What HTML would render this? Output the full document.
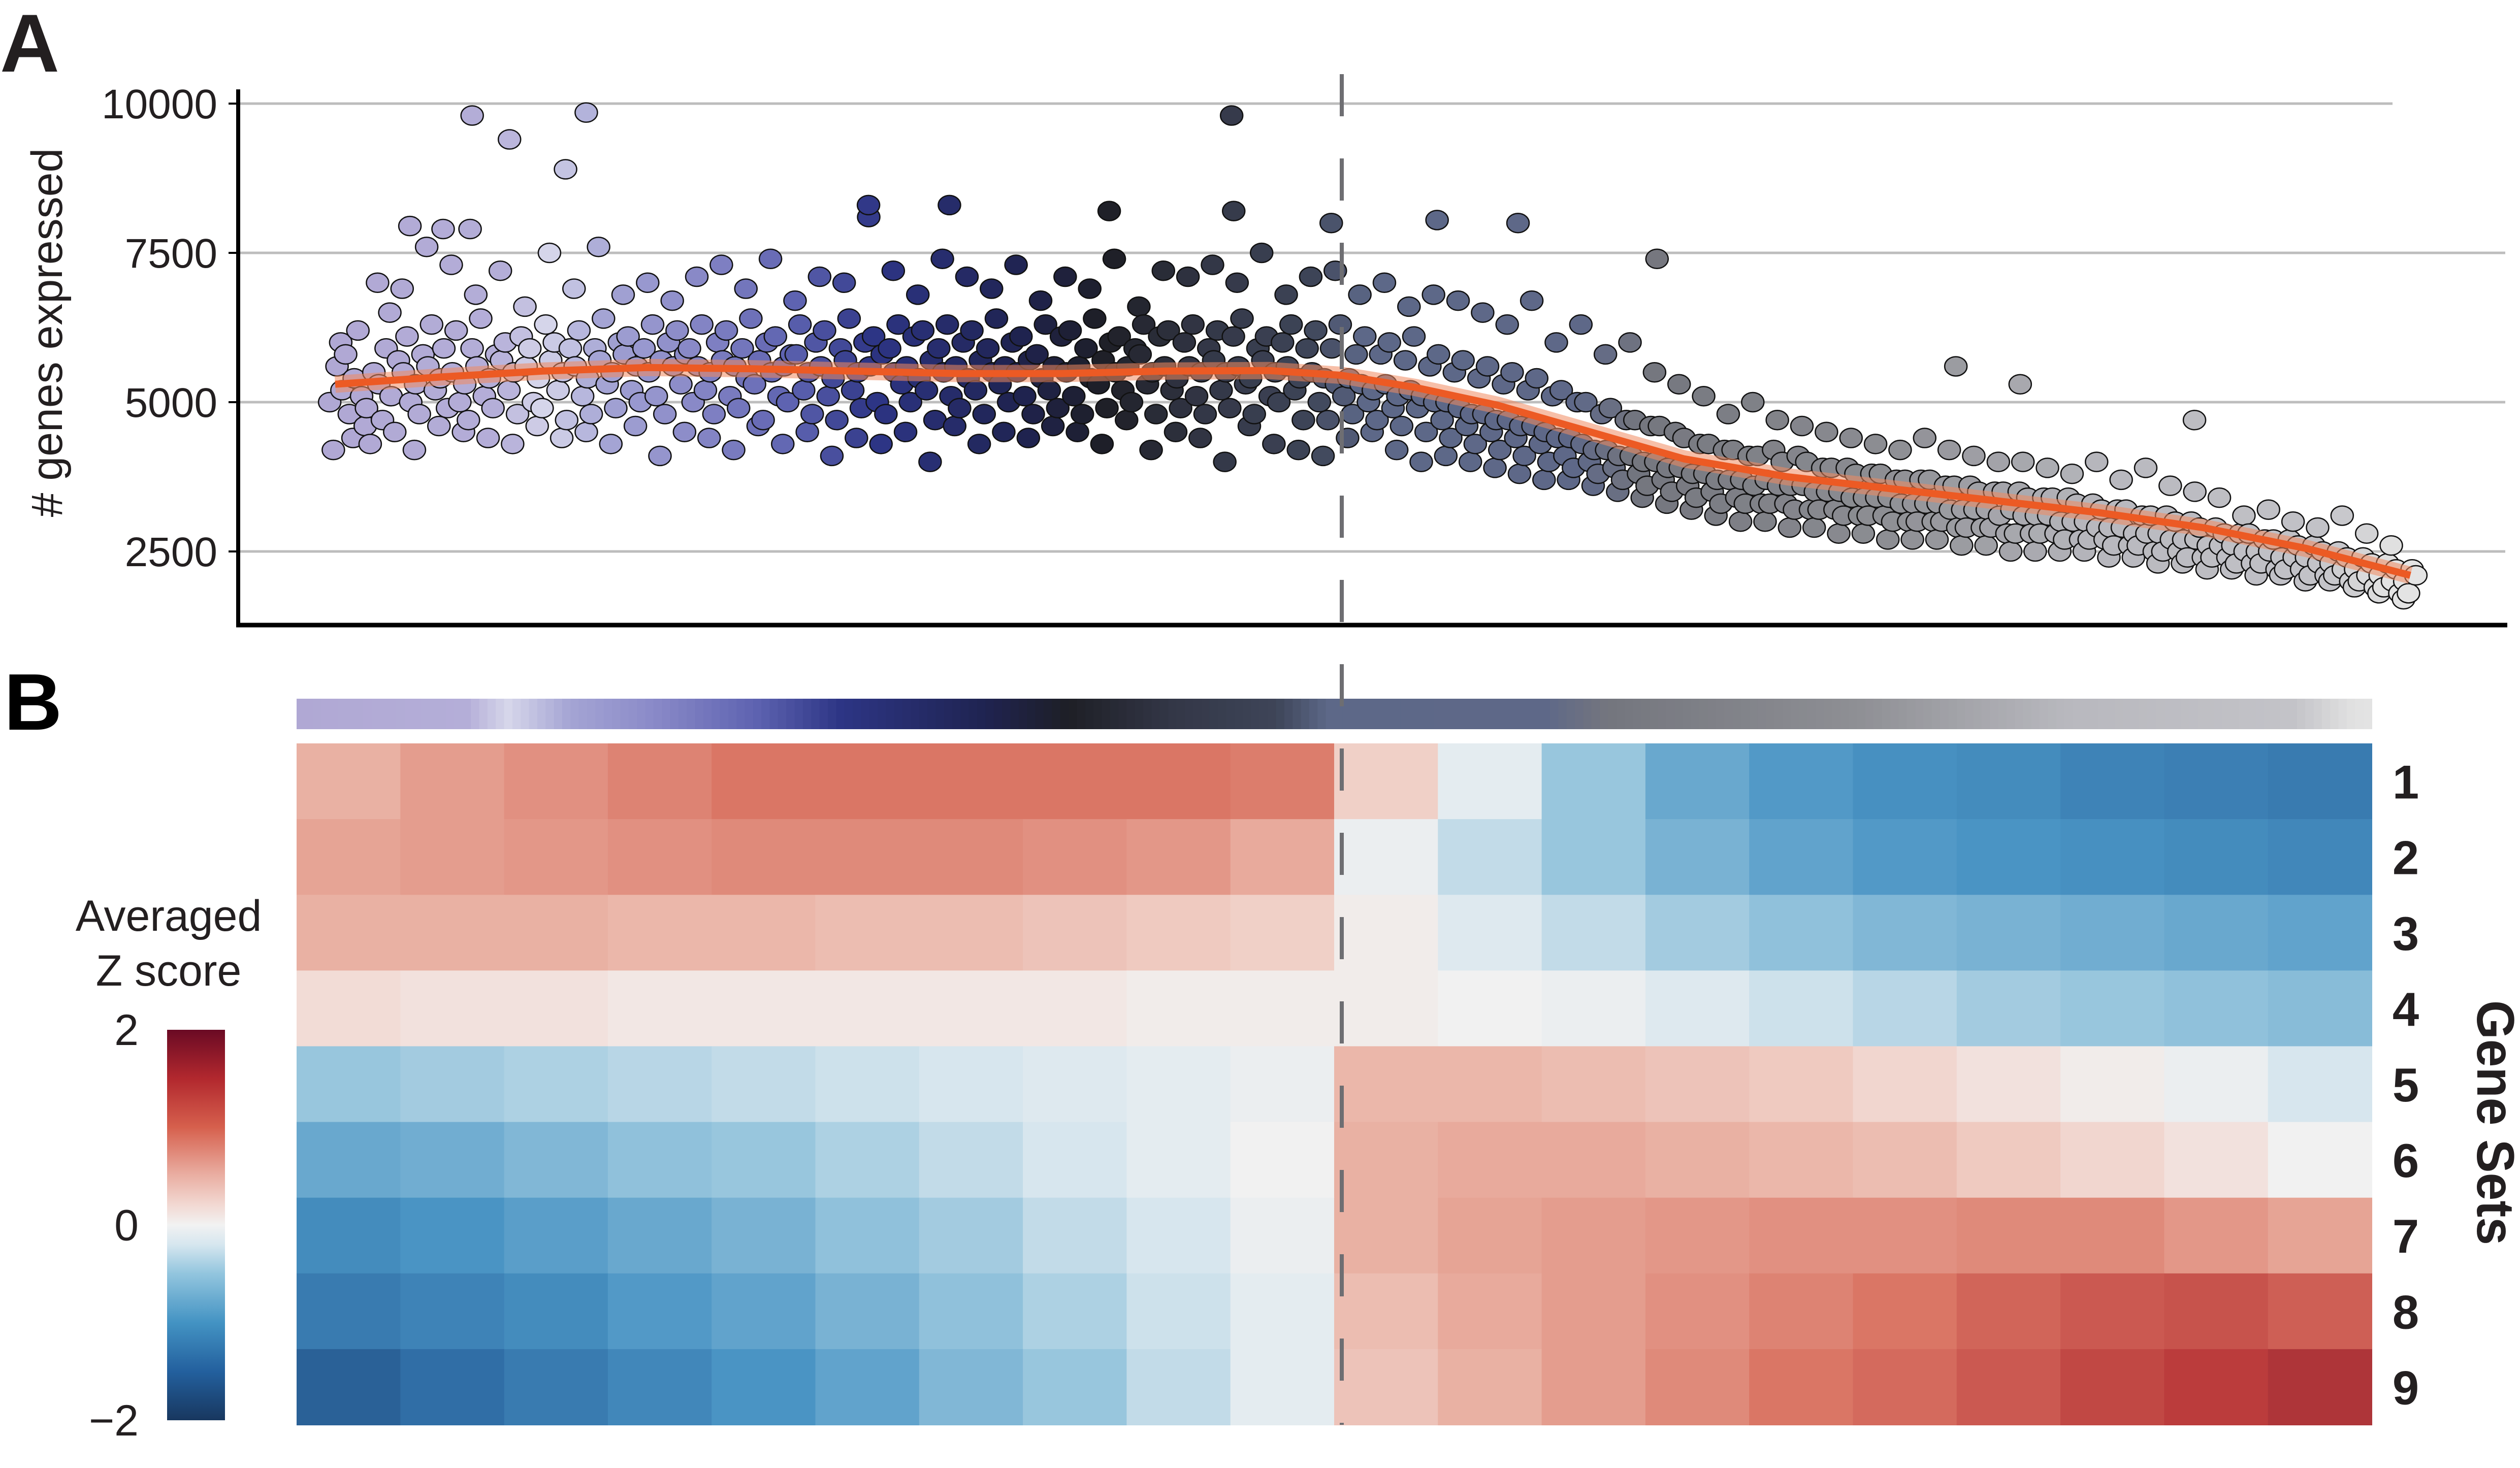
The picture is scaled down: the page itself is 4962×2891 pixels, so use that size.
<!DOCTYPE html>
<html><head><meta charset="utf-8"><style>
html,body{margin:0;padding:0;background:#fff;width:4962px;height:2891px;overflow:hidden}
svg{display:block;font-family:"Liberation Sans",Arial,sans-serif}
</style></head><body>
<svg id="fig" width="4962" height="2891" viewBox="0 0 4962 2891" xmlns="http://www.w3.org/2000/svg">
<text x="0" y="141" font-size="162" font-weight="bold" fill="#231f20">A</text>
<text x="8" y="1437" font-size="158" font-weight="bold" fill="#000">B</text>
<g id="grid"></g>
<g id="yaxis"></g>
<text transform="translate(122,655) rotate(-90)" text-anchor="middle" font-size="86" fill="#231f20"># genes expressed</text>
<g id="points"></g>
<g id="trend"></g>
<line x1="465" y1="1231" x2="4937" y2="1231" stroke="#000" stroke-width="9"/>
<g id="topbar"></g>
<g id="heat"></g>
<g id="rowlabels"></g>
<text transform="translate(4878,2211) rotate(90)" text-anchor="middle" font-size="104" font-weight="bold" fill="#231f20" textLength="482" lengthAdjust="spacingAndGlyphs">Gene Sets</text>
<text x="332" y="1833" text-anchor="middle" font-size="86" fill="#231f20">Averaged</text>
<text x="332" y="1941" text-anchor="middle" font-size="86" fill="#231f20">Z score</text>
<defs><linearGradient id="cbg" x1="0" y1="1" x2="0" y2="0"></linearGradient></defs>
<rect x="329" y="2028" width="114" height="769" fill="url(#cbg)"/>
<g id="cbticks"></g>
<line x1="2642" y1="146" x2="2642" y2="2806" stroke="#6e6e72" stroke-width="8" stroke-dasharray="83 83"/>
</svg>
<script>
// ---------- data ----------
const yTicks = [2500, 5000, 7500, 10000];
const cbTicks = [2, 0, -2];
const cbTickLabels = ["2", "0", "\u22122"];
const geneSetLabels = ["1","2","3","4","5","6","7","8","9"];
// scatter: 170 cell-rank columns, 4 cells each (# genes expressed)
const geneCols = [
[5000,5600,4200,6000],[5200,4800,5800,4400],[5400,5100,6200,4600],[4900,5500,4300,7000],[5300,5900,4700,6500],[5100,5700,4500,6900],[5500,5000,6100,4200],[5300,5800,4800,7600],[5600,5200,6300,4600],[5400,4900,5900,7300],
[5500,5000,6200,4500],[5300,5900,4700,6800],[5600,5100,6400,4400],[5400,5800,4900,7200],[5700,5200,6000,4300],[5500,6100,4800,6600],[5600,5000,5900,4600],[5400,6300,4900,7500],[5700,5200,6000,4400],[5500,5900,4700,6900],
[5600,5100,6200,4500],[5400,5900,4800,7600],[5700,5300,6400,4300],[5500,6000,4900,6800],[5800,5200,6100,4600],[5600,5900,5000,7000],[5500,5100,6300,4100],[5700,6000,4800,6700],[5600,5300,6200,4500],[5800,5000,5900,7100],
[5600,5200,6300,4400],[5500,6000,4800,7300],[5700,5100,6200,4200],[5600,5900,4900,6900],[5400,5300,6400,4600],[5700,6000,4700,7400],[5500,5100,6100,4300],[5600,5800,5000,6700],[5800,5200,6300,4500],[5500,6000,4800,7100],
[5600,5100,6200,4100],[5400,5900,4700,7000],[5700,5200,6400,4400],[5500,6000,4900,8100],[5600,5000,6100,4300],[5800,5900,4800,7200],[5500,5300,6300,4500],[5600,6100,5000,6800],[5400,5200,6200,4000],[5700,5900,4700,7400],
[5500,5100,6300,4600],[5600,6000,4900,7100],[5400,5200,6200,4300],[5700,5900,4800,6900],[5500,5300,6400,4500],[5600,6000,5000,7300],[5500,5100,6100,4400],[5700,5800,4800,6700],[5400,5200,6300,4600],[5600,6100,4900,7100],
[5500,5100,6200,4500],[5600,5900,4800,6900],[5400,5300,6400,4300],[5700,6000,4900,7400],[5500,5200,6100,4700],[5600,5900,5000,6600],[5800,5300,6300,4200],[5500,6100,4800,7200],[5600,5200,6200,4500],[5400,6000,4900,7100],
[5600,5100,6300,4400],[5500,5900,4800,7300],[5700,5200,6200,4000],[5500,6100,4900,7000],[5600,5300,6400,4600],[5400,5900,4800,7500],[5700,5100,6100,4300],[5500,6000,5000,6800],[5600,5200,6300,4200],[5400,5900,4700,7100],
[5500,5000,6200,4100],[5400,5900,4700,7200],[5300,5100,6300,4400],[5400,5800,4800,6800],[5300,5000,6100,4500],[5200,5800,4700,7000],[5300,4900,6000,4200],[5100,5700,4600,6600],[5200,4900,6100,4000],[5100,5600,4500,6800],
[5000,4700,5800,4100],[5000,5500,4400,6700],[4900,4600,5700,4000],[4800,5400,4300,6500],[4800,4500,5600,3900],[4700,5300,4200,6300],[4700,4400,5500,3800],[4600,5200,4100,6700],[4600,4300,5400,3700],[4500,5100,4000,6000],
[4400,4100,5200,3700],[4400,5000,3900,6300],[4300,4000,5000,3600],[4200,4800,3800,5800],[4200,3900,4900,3500],[4100,4700,3700,6000],[4100,3800,4700,3400],[4000,4600,3600,5500],[4000,3700,4600,3300],[3900,4500,3500,5300],
[3900,3600,4400,3200],[3800,4300,3400,5100],[3800,3500,4300,3100],[3700,4200,3300,4800],[3700,3400,4200,3000],[3700,4100,3300,5000],[3600,3300,4100,3000],[3700,4200,3300,4700],[3600,3300,4000,2900],[3600,4100,3200,4600],
[3600,3200,4000,2900],[3500,3900,3200,4500],[3500,3200,3900,2800],[3500,3900,3100,4400],[3400,3100,3800,2800],[3400,3800,3100,4300],[3400,3100,3800,2700],[3400,3700,3000,4200],[3300,3000,3700,2700],[3300,3700,3000,4400],
[3300,3000,3700,2700],[3300,3600,3000,4200],[3200,2900,3600,2600],[3200,3600,2900,4100],[3200,2900,3500,2600],[3200,3500,2900,4000],[3100,2800,3500,2500],[3200,3500,2800,4000],[3100,2800,3400,2500],[3100,3400,2800,3900],
[3100,2800,3400,2500],[3000,3400,2700,3800],[3000,2700,3300,2500],[3000,3300,2700,4000],[2900,2700,3200,2400],[2900,3200,2600,3700],[2900,2600,3200,2400],[2800,3100,2600,3900],[2800,2500,3100,2300],[2800,3100,2500,3600],
[2700,2500,3000,2300],[2700,3000,2400,3500],[2700,2400,2900,2200],[2600,2900,2400,3400],[2600,2400,2800,2200],[2600,2800,2300,3100],[2500,2300,2800,2100],[2500,2700,2300,3200],[2500,2200,2700,2100],[2400,2700,2200,3000],
[2400,2200,2600,2000],[2400,2600,2100,2900],[2300,2100,2500,2000],[2300,2500,2100,3100],[2200,2000,2400,1900],[2200,2400,2000,2800],[2100,1900,2300,1800],[2100,2300,1900,2600],[2000,1800,2200,1700],[2000,2200,1800,2100]
];
const outlierRank = [66,84,111,121,432,36,52,65,257,296,373,433,480,531,570,781,812,896,637];
const outlierGenes = [9800,9400,8900,9850,9800,7950,7900,7900,8300,8300,8200,8200,8000,8050,8000,5600,5300,4700,7400];
const trendRank = [0,50,100,150,200,250,300,350,400,450,485,520,560,600,650,700,750,800,850,900,950,1000];
const trendGenes = [5300,5420,5520,5580,5560,5520,5480,5480,5520,5530,5450,5250,4950,4550,4050,3750,3550,3350,3150,2900,2550,2100];
// heatmap: averaged z score per gene set, 20 cell-order bins
const set1 = [0.55,0.7,0.8,0.9,1.0,1.0,1.0,1.0,1.0,0.95,0.3,-0.1,-0.5,-0.8,-0.95,-1.05,-1.1,-1.2,-1.25,-1.3];
const set2 = [0.65,0.7,0.75,0.8,0.85,0.85,0.85,0.8,0.75,0.6,-0.05,-0.3,-0.5,-0.7,-0.85,-0.95,-1.0,-1.05,-1.1,-1.15];
const set3 = [0.55,0.55,0.55,0.5,0.5,0.45,0.45,0.4,0.35,0.3,0.05,-0.15,-0.3,-0.45,-0.55,-0.65,-0.7,-0.75,-0.8,-0.85];
const set4 = [0.2,0.15,0.15,0.1,0.1,0.1,0.1,0.1,0.05,0.05,0.05,0.0,-0.05,-0.15,-0.25,-0.35,-0.45,-0.5,-0.55,-0.6];
const set5 = [-0.5,-0.45,-0.4,-0.35,-0.3,-0.25,-0.2,-0.15,-0.1,-0.05,0.5,0.5,0.45,0.4,0.35,0.25,0.15,0.05,-0.05,-0.2];
const set6 = [-0.8,-0.75,-0.65,-0.55,-0.5,-0.4,-0.3,-0.2,-0.1,0.0,0.55,0.6,0.6,0.55,0.5,0.45,0.35,0.25,0.15,0.0];
const set7 = [-1.1,-1.0,-0.9,-0.8,-0.7,-0.55,-0.45,-0.3,-0.2,-0.05,0.55,0.65,0.7,0.75,0.8,0.8,0.85,0.85,0.75,0.65];
const set8 = [-1.3,-1.2,-1.1,-0.95,-0.85,-0.7,-0.55,-0.4,-0.25,-0.1,0.45,0.6,0.7,0.8,0.9,1.0,1.15,1.25,1.3,1.2];
const set9 = [-1.6,-1.45,-1.3,-1.15,-1.0,-0.85,-0.65,-0.5,-0.3,-0.1,0.4,0.55,0.7,0.85,1.0,1.1,1.25,1.4,1.5,1.6];
const geneSets = [set1,set2,set3,set4,set5,set6,set7,set8,set9];

// ---------- styles / scales ----------
const NS = "http://www.w3.org/2000/svg";
function mk(tag, parent, attrs){const e=document.createElementNS(NS,tag);for(const k in attrs)e.setAttribute(k,attrs[k]);parent.appendChild(e);return e;}
const yScale = v => 792 - (v-5000)/2500*294;
const xRank = r => 660 + r*4.086;
const hx0 = 584, hW = 4086, hTop = 1464, hRowH = (2806-1464)/9;
const rankStops = [[0,"#b0a8d4"],[80,"#b4aed8"],[100,"#d6d6ea"],[130,"#a4a4d4"],[170,"#8a8ac8"],[220,"#5d62b0"],[260,"#2d3585"],[330,"#1f2350"],[370,"#1e1f26"],[420,"#333747"],[470,"#3e4558"],[495,"#5d6888"],[600,"#5e6888"],[630,"#74767e"],[750,"#8e8f94"],[850,"#b8b8be"],[960,"#c3c3c8"],[990,"#e2e2e2"],[1000,"#e4e4e4"]];
const cbStops = [[-2,"#18375f"],[-1.5,"#23609e"],[-1,"#4393c3"],[-0.5,"#92c5de"],[-0.2,"#d6e6ef"],[0,"#f2f2f2"],[0.2,"#f2d9d3"],[0.5,"#eab0a4"],[1,"#d6604d"],[1.5,"#b2282e"],[2,"#6a0a24"]];
const zStops = [[-2,"#1f3f68"],[-1.5,"#2d6aa3"],[-1,"#4a94c4"],[-0.5,"#98c6dd"],[-0.2,"#d7e6ee"],[0,"#f1f1f1"],[0.2,"#f2dcd6"],[0.5,"#ebb7aa"],[1,"#da7665"],[1.5,"#bb3c3c"],[2,"#7a1a2c"]];
function hex(c){return [1,3,5].map(i=>parseInt(c.substr(i,2),16));}
function interp(stops,v){
  if(v<=stops[0][0])return stops[0][1];
  for(let i=1;i<stops.length;i++){if(v<=stops[i][0]){const a=stops[i-1],b=stops[i],t=(v-a[0])/(b[0]-a[0]);const A=hex(a[1]),B=hex(b[1]);return "rgb("+A.map((x,j)=>Math.round(x+(B[j]-x)*t)).join(",")+")";}}
  return stops[stops.length-1][1];
}

// gridlines + y ticks
const grid=document.getElementById("grid"), yax=document.getElementById("yaxis");
yTicks.forEach(v=>{
  const y=yScale(v);
  const gl=mk("line",grid,{x1:469,x2:v===10000?4711:4933,y1:y,y2:y,stroke:"#bdbdbd","stroke-width":5});
  
  
  const tk=mk("line",yax,{x1:450,x2:469,y1:y,y2:y,stroke:"#000","stroke-width":4});
  
  
  const tl=mk("text",yax,{x:428,y:y+29,"text-anchor":"end","font-size":82,fill:"#231f20"});
  tl.textContent=String(v);
  
  
});
const yl=mk("line",yax,{x1:469,x2:469,y1:176,y2:1235,stroke:"#000","stroke-width":8});



// scatter points
const pts=document.getElementById("points");
const step=1000/(geneCols.length-1);
const jit=[-0.45,0.15,-0.15,0.45];
geneCols.forEach((col,i)=>{
  const r=i*step;
  col.forEach((g,j)=>{
    const c=mk("ellipse",pts,{cx:xRank(r+jit[j]*step),cy:yScale(g),rx:22,ry:19,fill:interp(rankStops,r),stroke:"#111","stroke-width":2.5});
    
    
  });
});
outlierRank.forEach((r,i)=>{
  const c=mk("ellipse",pts,{cx:xRank(r),cy:yScale(outlierGenes[i]),rx:22,ry:19,fill:interp(rankStops,r),stroke:"#111","stroke-width":2.5});
  
  
});

// trend line
const tr=document.getElementById("trend");
const d=trendRank.map((r,i)=>(i?"L":"M")+xRank(r).toFixed(1)+","+yScale(trendGenes[i]).toFixed(1)).join(" ");
const band=mk("path",tr,{d:d,fill:"none",stroke:"#f08a60","stroke-opacity":0.55,"stroke-width":34,"stroke-linejoin":"round"});


const ln=mk("path",tr,{d:d,fill:"none",stroke:"#ec5a24","stroke-width":14,"stroke-linejoin":"round"});



// top colour bar
const tb=document.getElementById("topbar");
for(let r=0;r<1000;r+=4){
  const b=mk("rect",tb,{x:hx0+r*hW/1000,y:1376,width:hW/1000*4+1,height:60,fill:interp(rankStops,r)});
  
  
}

// heatmap
const hm=document.getElementById("heat");
geneSets.forEach((row,ri)=>{
  const bw=hW/row.length;
  row.forEach((z,ci)=>{
    const c=mk("rect",hm,{x:hx0+ci*bw,y:hTop+ri*hRowH,width:bw+1,height:hRowH+1,fill:interp(zStops,z)});
    
    
  });
});
const rl=document.getElementById("rowlabels");
geneSetLabels.forEach((t,i)=>{
  const e=mk("text",rl,{x:4737,y:hTop+(i+0.5)*hRowH+34,"text-anchor":"middle","font-size":94,"font-weight":"bold",fill:"#231f20"});
  e.textContent=t;
  
  
});

// colorbar
const g=document.getElementById("cbg");
cbStops.forEach(s=>{mk("stop",g,{offset:((s[0]+2)/4*100)+"%","stop-color":s[1]});});
const cbt=document.getElementById("cbticks");
cbTicks.forEach((v,i)=>{
  const y=2797-(v+2)/4*769;
  const e=mk("text",cbt,{x:273,y:y+30,"text-anchor":"end","font-size":86,fill:"#231f20"});
  e.textContent=cbTickLabels[i];
  
  
});
</script>
</body></html>
